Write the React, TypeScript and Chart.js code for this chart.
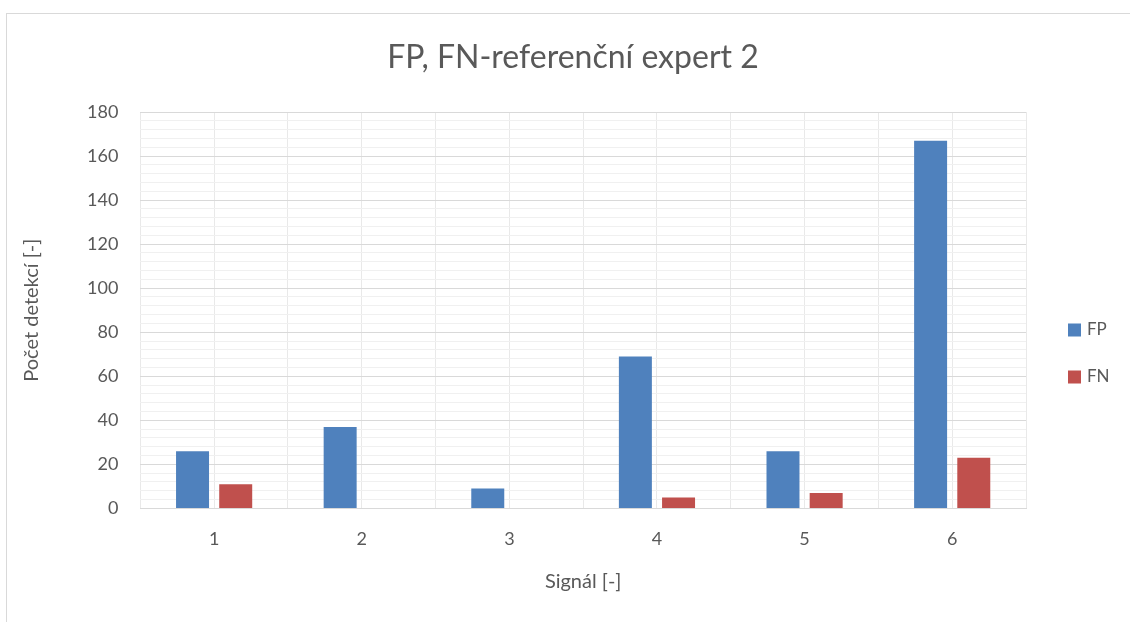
import React, { useEffect, useRef } from "react";
import { Chart, registerables } from "chart.js";

Chart.register(...registerables);

const categories = ["1", "2", "3", "4", "5", "6"];
const seriesNames = ["FP", "FN"];
const fpValues = [26, 37, 9, 69, 26, 167];
const fnValues = [11, 0, 0, 5, 7, 23];
const seriesColors = ["#4F81BD", "#C0504D"];
const chartTitle = "FP, FN-referenční expert 2";
const xTitle = "Signál [-]";
const yTitle = "Počet detekcí [-]";
const yMax = 180;
const yMajorStep = 20;
const yMinorStep = 4;

const FONT = "Lato, 'Noto Sans', sans-serif";
const TEXT = "#595959";

const titleLegendPlugin = {
  id: "customTitleLegend",
  afterDraw(chart: any) {
    const ctx = chart.ctx;
    ctx.save();
    ctx.fillStyle = TEXT;
    ctx.font = `32px ${FONT}`;
    ctx.textAlign = "center";
    ctx.textBaseline = "middle";
    ctx.fillText(chartTitle, 573, 58);
    chart.data.datasets.forEach((ds: any, i: number) => {
      const cy = 330 + i * 47;
      ctx.fillStyle = ds.backgroundColor;
      ctx.fillRect(1068, cy - 6.5, 13, 13);
      ctx.fillStyle = TEXT;
      ctx.font = `17px ${FONT}`;
      ctx.textBaseline = "middle";
      ctx.textAlign = "left";
      ctx.fillText(ds.label, 1087, cy);
    });
    ctx.restore();
  },
};

export default function App() {
  const ref = useRef<HTMLCanvasElement | null>(null);
  useEffect(() => {
    if (!ref.current) return;
    const chart = new Chart(ref.current, {
      type: "bar",
      data: {
        labels: categories,
        datasets: [
          {
            label: seriesNames[0],
            data: fpValues,
            backgroundColor: seriesColors[0],
            xAxisID: "x",
            yAxisID: "y",
            categoryPercentage: 0.585,
            barPercentage: 0.764,
          },
          {
            label: seriesNames[1],
            data: fnValues,
            backgroundColor: seriesColors[1],
            xAxisID: "x",
            yAxisID: "y",
            categoryPercentage: 0.585,
            barPercentage: 0.764,
          },
        ],
      },
      options: {
        animation: false,
        responsive: false,
        maintainAspectRatio: false,
        layout: { padding: { left: 20, right: 104, top: 112, bottom: 28 } },
        plugins: {
          legend: { display: false },
          tooltip: { enabled: false },
          title: { display: false },
        },
        scales: {
          x: {
            type: "category",
            offset: true,
            grid: { offset: true, color: "#e9e9e9", lineWidth: 1, drawTicks: false },
            border: { color: "#d9d9d9", width: 1 },
            ticks: { color: TEXT, font: { family: FONT, size: 18 }, padding: 20 },
            title: {
              display: true,
              text: xTitle,
              color: TEXT,
              font: { family: FONT, size: 20 },
              padding: { top: 0, bottom: 0 },
            },
          },
          x2: {
            type: "category",
            labels: categories,
            offset: true,
            position: "bottom",
            grid: { offset: false, color: "#e9e9e9", lineWidth: 1, drawTicks: false },
            border: { display: false },
            ticks: { display: false },
          },
          y: {
            min: 0,
            max: yMax,
            grid: {
              drawTicks: false,
              color: (c: any) => (c.tick && c.tick.value % yMajorStep === 0 ? "#d9d9d9" : "#f0f0f0"),
              lineWidth: 1,
            },
            border: { display: false },
            ticks: {
              stepSize: yMinorStep,
              autoSkip: false,
              color: TEXT,
              font: { family: FONT, size: 18 },
              padding: 22,
              callback: (v: any) => (Number(v) % yMajorStep === 0 ? String(v) : ""),
            },
            title: {
              display: true,
              text: yTitle,
              color: TEXT,
              font: { family: FONT, size: 20 },
              padding: { top: 0, bottom: 21 },
            },
          },
        },
      },
      plugins: [titleLegendPlugin],
    });
    return () => chart.destroy();
  }, []);
  return (
    <div style={{ position: "fixed", left: 0, top: 0, width: 1130, height: 622, background: "#fff" }}>
      <div
        style={{
          position: "absolute",
          left: 6,
          top: 13,
          width: 1200,
          height: 700,
          border: "1.5px solid #d9d9d9",
        }}
      />
      <canvas ref={ref} width={1130} height={622} style={{ position: "absolute", left: 0, top: 0 }} />
    </div>
  );
}
